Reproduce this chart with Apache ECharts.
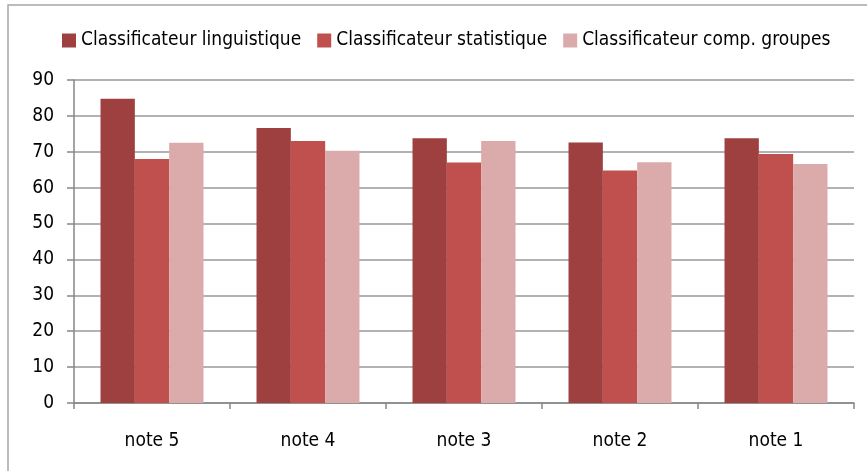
<!DOCTYPE html>
<html>
<head>
<meta charset="utf-8">
<script src="https://cdn.jsdelivr.net/npm/echarts@6/dist/echarts.min.js"></script>
<style>
  html, body { margin: 0; padding: 0; background: #fff; }
  #chart { width: 867px; height: 471px; }
</style>
</head>
<body>
<div id="chart"></div>
<script>
const categories = ["note 5", "note 4", "note 3", "note 2", "note 1"];
const linguistique = [84.8, 76.6, 73.8, 72.6, 73.8];
const statistique = [68.0, 73.0, 67.0, 64.8, 69.4];
const compGroupes = [72.5, 70.3, 73.0, 67.1, 66.6];
const seriesNames = [
  "Classificateur linguistique",
  "Classificateur statistique",
  "Classificateur comp. groupes",
];
const colors = ["#9E403F", "#C0504D", "#DBAAAA"];

const FONT = "'Liberation Sans Narrow', 'DejaVu Sans Condensed', sans-serif";

const chart = echarts.init(document.getElementById("chart"), null, { renderer: "canvas" });

const makeSeries = (name, data, color) => ({
  name: name,
  type: "bar",
  data: data,
  barGap: "0%",
  barCategoryGap: "34%",
  itemStyle: { color: color },
  emphasis: { disabled: true },
});

chart.setOption({
  animation: false,
  backgroundColor: "#fff",
  color: colors,
  graphic: [
    {
      type: "rect",
      shape: { x: 8, y: 5, width: 870, height: 480 },
      style: { fill: "none", stroke: "#A6A6A6", lineWidth: 1.5 },
      silent: true,
    },
  ],
  legend: {
    top: 26,
    left: 57,
    itemWidth: 14,
    itemHeight: 14,
    itemGap: 16,
    icon: "rect",
    textStyle: { fontFamily: FONT, fontSize: 19, color: "#000" },
    data: seriesNames,
  },
  grid: { left: 74, right: 13, top: 80, bottom: 68, containLabel: false },
  xAxis: {
    type: "category",
    data: categories,
    axisLine: { lineStyle: { color: "#868686", width: 1.5 } },
    axisTick: { show: true, length: 6, lineStyle: { color: "#868686", width: 1.5 } },
    axisLabel: { fontFamily: FONT, fontSize: 19, color: "#000", margin: 29 },
    splitLine: { show: false },
  },
  yAxis: {
    type: "value",
    min: 0,
    max: 90,
    interval: 10,
    axisLine: { show: true, lineStyle: { color: "#868686", width: 1.5 } },
    axisTick: { show: true, length: 7, lineStyle: { color: "#868686", width: 1.5 } },
    axisLabel: { fontFamily: FONT, fontSize: 19, color: "#000", margin: 20 },
    splitLine: { show: true, lineStyle: { color: "#999999", width: 1.5 } },
  },
  series: [
    makeSeries(seriesNames[0], linguistique, colors[0]),
    makeSeries(seriesNames[1], statistique, colors[1]),
    makeSeries(seriesNames[2], compGroupes, colors[2]),
  ],
});
</script>
</body>
</html>
